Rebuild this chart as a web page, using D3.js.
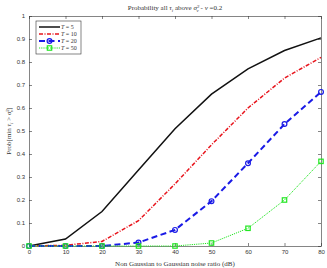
<!DOCTYPE html>
<html>
<head>
<meta charset="utf-8">
<script src="https://cdn.jsdelivr.net/npm/d3@7"></script>
<style>
  body { margin: 0; background: #fff; }
  svg text { fill: #333; }
  .tick text { font-family: "Liberation Sans", Arial, sans-serif; font-size: 6px; }
  .serif { font-family: "Liberation Serif", "Times New Roman", serif; }
</style>
</head>
<body>
<div id="chart"></div>
<script>
// x values (dB)
const snr = [0, 10, 20, 30, 40, 50, 60, 70, 80];
// probability per window length T
const probT5  = [0, 0.03, 0.15, 0.33, 0.51, 0.66, 0.77, 0.85, 0.905];
const probT10 = [0, 0.003, 0.02, 0.11, 0.27, 0.44, 0.60, 0.73, 0.82];
const probT20 = [0, 0, 0, 0.015, 0.07, 0.195, 0.36, 0.53, 0.67];
const probT50 = [0, 0, 0, 0, 0, 0.013, 0.077, 0.2, 0.368];
const seriesNames = ["5", "10", "20", "50"];
const xTicks = [0, 10, 20, 30, 40, 50, 60, 70, 80];
const yTicks = [0, 0.1, 0.2, 0.3, 0.4, 0.5, 0.6, 0.7, 0.8, 0.9, 1];

const W = 327, H = 268,
    margin = {top: 16, right: 6, bottom: 22, left: 29},
    width = W - margin.left - margin.right,
    height = H - margin.top - margin.bottom;

const svg = d3.select("#chart").append("svg")
    .attr("width", W).attr("height", H);

const g = svg.append("g")
    .attr("transform", "translate(" + margin.left + "," + margin.top + ")");

const x = d3.scaleLinear().domain([0, 80]).range([0, width]);
const y = d3.scaleLinear().domain([0, 1]).range([height, 0]);

// axes with ticks pointing inward, mirrored on top/right
g.append("g").attr("transform", "translate(0," + height + ")")
    .call(d3.axisBottom(x).tickValues(xTicks).tickSizeInner(-3).tickSizeOuter(0).tickPadding(4));
g.append("g")
    .call(d3.axisLeft(y).tickValues(yTicks).tickFormat(d3.format("~g")).tickSizeInner(-3).tickSizeOuter(0).tickPadding(4));
g.append("g")
    .call(d3.axisTop(x).tickValues(xTicks).tickFormat("").tickSizeInner(-3).tickSizeOuter(0));
g.append("g").attr("transform", "translate(" + width + ",0)")
    .call(d3.axisRight(y).tickValues(yTicks).tickFormat("").tickSizeInner(-3).tickSizeOuter(0));
g.selectAll(".domain").attr("stroke", "#333").attr("stroke-width", 0.6);
g.selectAll(".tick line").attr("stroke", "#333").attr("stroke-width", 0.6);

const series = [
  {name: seriesNames[0], values: probT5,  color: "#111", dash: null,       w: 1.5, marker: null},
  {name: seriesNames[1], values: probT10, color: "#e8141c", dash: "4,1.5,1,1.5", w: 1.5, marker: null},
  {name: seriesNames[2], values: probT20, color: "#1a1ae6", dash: "6,3.5",   w: 2,   marker: "circle"},
  {name: seriesNames[3], values: probT50, color: "#22e622", dash: "1.2,1",   w: 1,   marker: "square"}
];

const line = d3.line()
    .x((d, i) => x(snr[i]))
    .y(d => y(d));

function drawMarker(sel, type, color) {
  if (type === "circle") {
    sel.append("circle").attr("r", 2.4).attr("fill", "none")
      .attr("stroke", color).attr("stroke-width", 1.2);
  } else if (type === "square") {
    sel.append("rect").attr("x", -2.2).attr("y", -2.2).attr("width", 4.4).attr("height", 4.4)
      .attr("fill", "none").attr("stroke", color).attr("stroke-width", 1.2);
  }
}

series.forEach(s => {
  g.append("path").datum(s.values)
    .attr("fill", "none")
    .attr("stroke", s.color)
    .attr("stroke-width", s.w)
    .attr("stroke-dasharray", s.dash)
    .attr("d", line);
  if (s.marker) {
    g.selectAll(".m" + s.name).data(s.values).enter().append("g")
      .attr("transform", (d, i) => "translate(" + x(snr[i]) + "," + y(d) + ")")
      .each(function() { drawMarker(d3.select(this), s.marker, s.color); });
  }
});

// legend
const lg = g.append("g").attr("transform", "translate(7,5)");
lg.append("rect").attr("width", 45).attr("height", 33)
  .attr("fill", "#fff").attr("stroke", "#333").attr("stroke-width", 0.6);
series.forEach((s, i) => {
  const ly = 6 + i * 7;
  lg.append("line").attr("x1", 3).attr("x2", 24).attr("y1", ly).attr("y2", ly)
    .attr("stroke", s.color).attr("stroke-width", s.w).attr("stroke-dasharray", s.dash);
  if (s.marker) {
    const mg = lg.append("g").attr("transform", "translate(13.5," + ly + ")");
    drawMarker(mg, s.marker, s.color);
  }
  const t = lg.append("text").attr("class", "serif").attr("x", 25).attr("y", ly + 2)
    .attr("font-size", 6);
  t.append("tspan").attr("font-style", "italic").text("T");
  t.append("tspan").text(" = " + s.name);
});

// title
const title = svg.append("text").attr("class", "serif")
  .attr("x", margin.left + width / 2).attr("y", 10)
  .attr("text-anchor", "middle").attr("font-size", 7);
title.append("tspan").text("Probability all ");
title.append("tspan").attr("font-style", "italic").text("τ");
title.append("tspan").attr("font-style", "italic").attr("font-size", 5).attr("dy", 1.5).text("i");
title.append("tspan").attr("dy", -1.5).text(" above ");
title.append("tspan").attr("font-style", "italic").text("σ");
title.append("tspan").attr("font-size", 5).attr("dy", -2.5).text("2");
title.append("tspan").attr("font-size", 5).attr("font-style", "italic").attr("dx", -2.8).attr("dy", 4.5).text("v");
title.append("tspan").attr("dy", -2).text(" - ");
title.append("tspan").attr("font-style", "italic").text("ν");
title.append("tspan").text(" =0.2");

// x label
svg.append("text").attr("class", "serif")
  .attr("x", margin.left + width / 2).attr("y", H - 2)
  .attr("text-anchor", "middle").attr("font-size", 7)
  .text("Non Gaussian to Gaussian noise ratio (dB)");

// y label
const yl = svg.append("text").attr("class", "serif")
  .attr("transform", "translate(11," + (margin.top + height / 2) + ") rotate(-90)")
  .attr("text-anchor", "middle").attr("font-size", 7);
yl.append("tspan").text("Prob[min ");
yl.append("tspan").attr("font-style", "italic").text("τ");
yl.append("tspan").attr("font-style", "italic").attr("font-size", 5).attr("dy", 1.5).text("i");
yl.append("tspan").attr("dy", -1.5).text(" > ");
yl.append("tspan").attr("font-style", "italic").text("σ");
yl.append("tspan").attr("font-size", 5).attr("dy", -2.5).text("2");
yl.append("tspan").attr("font-size", 5).attr("font-style", "italic").attr("dx", -2.8).attr("dy", 4.5).text("v");
yl.append("tspan").attr("dy", -2).text("]");
</script>
</body>
</html>
